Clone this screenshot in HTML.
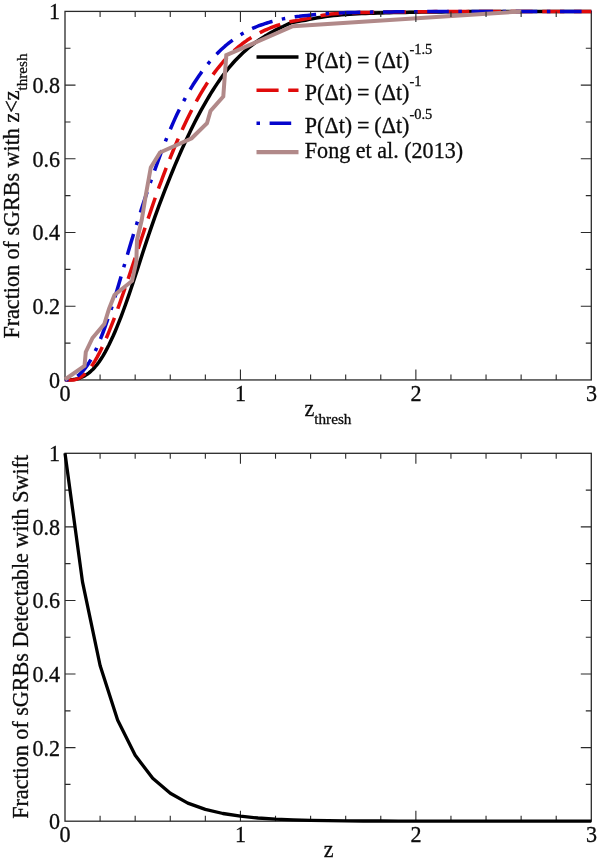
<!DOCTYPE html>
<html><head><meta charset="utf-8"><title>sGRB redshift distributions</title>
<style>html,body{margin:0;padding:0;background:#fff}svg{display:block}text{stroke:#0c0c0c;stroke-width:.3px}</style></head>
<body>
<svg width="600" height="862" viewBox="0 0 600 862" font-family='"Liberation Serif", "Times New Roman", serif' font-size="22.1" fill="#0c0c0c">
<rect width="600" height="862" fill="#fff"/>
<rect x="65.0" y="11.4" width="526.30" height="368.55" fill="none" stroke="#2a2a2a" stroke-width="1.3"/>
<g fill="none" stroke-width="3.5" stroke-linejoin="round">
<polyline points="65.0,379.5 67.0,379.7 69.0,379.7 71.0,379.7 73.0,379.6 75.0,379.3 77.0,378.9 79.0,378.3 81.0,377.5 83.0,376.6 85.0,375.6 87.0,374.3 89.0,372.8 91.0,371.1 93.0,369.2 95.0,367.0 97.0,364.6 99.0,362.0 101.0,359.0 103.0,355.9 105.0,352.4 107.0,348.7 109.0,344.8 111.0,340.6 113.0,336.3 115.0,331.7 117.0,326.9 119.0,321.9 121.0,316.8 123.0,311.5 125.0,306.0 127.0,300.4 129.0,294.7 131.0,288.8 133.0,282.8 135.0,276.7 137.0,270.6 139.0,264.4 141.0,258.2 143.0,252.0 145.0,245.9 147.0,239.9 149.0,234.0 151.0,228.1 153.0,222.4 155.0,216.7 157.0,211.2 159.0,205.7 161.0,200.4 163.0,195.1 165.0,189.9 167.0,184.8 169.0,179.8 171.0,174.8 173.0,170.0 175.0,165.2 177.0,160.5 179.0,155.9 181.0,151.3 183.0,146.9 185.0,142.5 187.0,138.2 189.0,134.0 191.0,129.8 193.0,125.8 195.0,121.8 197.0,117.9 199.0,114.1 201.0,110.4 203.0,106.8 205.0,103.3 207.0,99.8 209.0,96.5 211.0,93.2 213.0,90.0 215.0,86.9 217.0,83.9 219.0,81.0 221.0,78.1 223.0,75.4 225.0,72.7 227.0,70.2 229.0,67.7 231.0,65.3 233.0,63.0 235.0,60.8 237.0,58.7 239.0,56.7 241.0,54.7 243.0,52.8 245.0,51.0 247.0,49.2 249.0,47.5 251.0,45.9 253.0,44.3 255.0,42.8 257.0,41.4 259.0,40.0 261.0,38.7 263.0,37.4 265.0,36.1 267.0,34.9 269.0,33.7 271.0,32.6 273.0,31.5 275.0,30.4 277.0,29.4 279.0,28.4 281.0,27.4 283.0,26.5 285.0,25.5 287.0,24.6 289.0,23.7 291.0,22.8 291.5,22.6 293.5,22.3 297.5,21.6 301.5,20.9 305.5,20.2 309.5,19.4 313.5,18.6 317.5,17.8 321.5,17.2 325.5,16.5 329.5,16.0 333.5,15.5 337.5,15.2 341.5,14.8 345.5,14.6 349.5,14.3 353.5,14.1 357.5,13.8 361.5,13.6 365.5,13.5 369.5,13.3 373.5,13.2 377.5,13.1 381.5,12.9 385.5,12.8 389.5,12.7 393.5,12.6 397.5,12.5 401.5,12.5 405.5,12.4 409.5,12.3 413.5,12.3 417.5,12.2 421.5,12.1 425.5,12.1 429.5,12.0 433.5,12.0 437.5,11.9 441.5,11.9 445.5,11.8 449.5,11.8 453.5,11.8 457.5,11.7 461.5,11.7 465.5,11.7 469.5,11.6 473.5,11.6 477.5,11.6 481.5,11.5 485.5,11.5 489.5,11.5 493.5,11.5 497.5,11.5 501.5,11.4 505.5,11.4 509.5,11.4 513.5,11.4 517.5,11.4 521.5,11.4 525.5,11.4 529.5,11.4 533.5,11.4 537.5,11.4 541.5,11.4 545.5,11.4 549.5,11.4 553.5,11.4 557.5,11.4 561.5,11.4 565.5,11.4 569.5,11.4 573.5,11.4 577.5,11.4 581.5,11.4 585.5,11.4 589.5,11.4 591.3,11.4" stroke="#000"/>
<polyline points="65.0,379.5 67.0,379.9 69.0,379.9 71.0,379.9 73.0,379.9 75.0,379.7 77.0,379.0 79.0,378.1 81.0,376.9 83.0,375.5 85.0,373.8 87.0,371.8 89.0,369.5 91.0,366.9 93.0,364.0 95.0,360.9 97.0,357.4 99.0,353.7 101.0,349.7 103.0,345.5 105.0,341.1 107.0,336.5 109.0,331.7 111.0,326.7 113.0,321.6 115.0,316.3 117.0,310.9 119.0,305.3 121.0,299.7 123.0,294.0 125.0,288.2 127.0,282.3 129.0,276.4 131.0,270.4 133.0,264.3 135.0,258.3 137.0,252.2 139.0,246.1 141.0,240.0 143.0,234.0 145.0,227.9 147.0,221.9 149.0,216.0 151.0,210.1 153.0,204.2 155.0,198.5 157.0,192.8 159.0,187.2 161.0,181.8 163.0,176.4 165.0,171.1 167.0,165.9 169.0,160.8 171.0,155.9 173.0,151.0 175.0,146.2 177.0,141.5 179.0,136.9 181.0,132.4 183.0,128.0 185.0,123.7 187.0,119.6 189.0,115.5 191.0,111.5 193.0,107.6 195.0,103.8 197.0,100.2 199.0,96.6 201.0,93.2 203.0,89.8 205.0,86.6 207.0,83.4 209.0,80.4 211.0,77.5 213.0,74.6 215.0,71.9 217.0,69.3 219.0,66.8 221.0,64.4 223.0,62.0 225.0,59.8 227.0,57.6 229.0,55.5 231.0,53.6 233.0,51.6 235.0,49.8 237.0,48.1 239.0,46.4 241.0,44.8 243.0,43.2 245.0,41.8 247.0,40.3 249.0,39.0 251.0,37.7 253.0,36.5 255.0,35.3 257.0,34.2 259.0,33.1 261.0,32.1 263.0,31.1 265.0,30.2 267.0,29.3 269.0,28.5 271.0,27.7 273.0,26.9 275.0,26.2 277.0,25.5 279.0,24.8 281.0,24.1 283.0,23.5 285.0,22.9 287.0,22.3 289.0,21.7 291.0,21.4 295.0,20.8 299.0,20.1 303.0,19.3 307.0,18.6 311.0,17.8 315.0,16.9 319.0,16.0 323.0,15.3 327.0,14.7 331.0,14.1 335.0,13.7 339.0,13.4 343.0,13.2 347.0,13.0 351.0,12.8 355.0,12.7 359.0,12.6 363.0,12.5 367.0,12.5 371.0,12.4 375.0,12.3 379.0,12.3 383.0,12.2 387.0,12.1 391.0,12.1 395.0,12.1 399.0,12.0 403.0,12.0 407.0,11.9 411.0,11.9 415.0,11.8 419.0,11.8 423.0,11.8 427.0,11.7 431.0,11.7 435.0,11.6 439.0,11.6 443.0,11.6 447.0,11.5 451.0,11.5 455.0,11.5 459.0,11.5 463.0,11.5 467.0,11.5 471.0,11.5 475.0,11.5 479.0,11.5 483.0,11.5 487.0,11.5 491.0,11.5 495.0,11.5 499.0,11.4 503.0,11.4 507.0,11.4 511.0,11.4 515.0,11.4 519.0,11.4 523.0,11.4 527.0,11.4 531.0,11.4 535.0,11.4 539.0,11.4 543.0,11.4 547.0,11.4 551.0,11.4 555.0,11.4 559.0,11.4 563.0,11.4 567.0,11.4 571.0,11.4 575.0,11.4 579.0,11.4 583.0,11.4 587.0,11.4 591.0,11.4 591.3,11.4" stroke="#e00b0b" stroke-dasharray="22.1 9.6"/>
<polyline points="65.0,379.5 67.0,379.7 69.0,379.6 71.0,379.2 73.0,378.5 75.0,377.6 77.0,376.4 79.0,374.8 81.0,373.0 83.0,370.9 85.0,368.5 87.0,365.8 89.0,362.7 91.0,359.4 93.0,355.7 95.0,351.7 97.0,347.3 99.0,342.6 101.0,337.7 103.0,332.5 105.0,327.1 107.0,321.4 109.0,315.6 111.0,309.6 113.0,303.4 115.0,296.9 117.0,290.3 119.0,283.5 121.0,276.7 123.0,269.9 125.0,263.0 127.0,256.1 129.0,249.3 131.0,242.6 133.0,235.9 135.0,229.4 137.0,223.0 139.0,216.7 141.0,210.5 143.0,204.4 145.0,198.4 147.0,192.4 149.0,186.6 151.0,180.8 153.0,175.0 155.0,169.4 157.0,163.8 159.0,158.3 161.0,152.9 163.0,147.6 165.0,142.4 167.0,137.3 169.0,132.4 171.0,127.7 173.0,123.1 175.0,118.6 177.0,114.3 179.0,110.2 181.0,106.2 183.0,102.3 185.0,98.6 187.0,94.9 189.0,91.5 191.0,88.1 193.0,84.8 195.0,81.7 197.0,78.7 199.0,75.8 201.0,72.9 203.0,70.2 205.0,67.6 207.0,65.1 209.0,62.6 211.0,60.3 213.0,58.0 215.0,55.8 217.0,53.8 219.0,51.7 221.0,49.8 223.0,48.0 225.0,46.2 227.0,44.5 229.0,42.8 231.0,41.3 233.0,39.8 235.0,38.4 237.0,37.0 239.0,35.7 241.0,34.5 243.0,33.3 245.0,32.2 247.0,31.1 249.0,30.1 251.0,29.1 253.0,28.2 255.0,27.3 257.0,26.5 259.0,25.7 261.0,25.0 263.0,24.3 265.0,23.6 267.0,23.0 269.0,22.4 271.0,21.8 273.0,21.3 275.0,20.7 277.0,20.3 279.0,19.8 281.0,19.3 283.0,18.9 285.0,18.5 287.0,18.1 289.0,17.8 291.0,17.4 293.0,17.0 293.3,17.0 295.3,16.7 299.3,16.3 303.3,15.8 307.3,15.4 311.3,15.0 315.3,14.6 319.3,14.2 323.3,13.9 327.3,13.6 331.3,13.4 335.3,13.1 339.3,12.9 343.3,12.8 347.3,12.6 351.3,12.5 355.3,12.4 359.3,12.3 363.3,12.2 367.3,12.2 371.3,12.1 375.3,12.0 379.3,12.0 383.3,11.9 387.3,11.9 391.3,11.9 395.3,11.8 399.3,11.8 403.3,11.8 407.3,11.7 411.3,11.7 415.3,11.7 419.3,11.7 423.3,11.6 427.3,11.6 431.3,11.6 435.3,11.6 439.3,11.6 443.3,11.5 447.3,11.5 451.3,11.5 455.3,11.5 459.3,11.5 463.3,11.5 467.3,11.5 471.3,11.5 475.3,11.5 479.3,11.5 483.3,11.5 487.3,11.5 491.3,11.5 495.3,11.5 499.3,11.5 503.3,11.4 507.3,11.4 511.3,11.4 515.3,11.4 519.3,11.4 523.3,11.4 527.3,11.4 531.3,11.4 535.3,11.4 539.3,11.4 543.3,11.4 547.3,11.4 551.3,11.4 555.3,11.4 559.3,11.4 563.3,11.4 567.3,11.4 571.3,11.4 575.3,11.4 579.3,11.4 583.3,11.4 587.3,11.4 591.3,11.4" stroke="#0505cc" stroke-dasharray="3.5 9.6 21.6 9.55"/>
<polyline points="65.0,379.5 84.5,366.0 85.8,352.0 92.5,338.0 104.3,324.0 109.0,309.0 114.5,295.0 132.0,281.0 136.3,262.0 137.0,240.0 141.7,220.0 146.0,194.0 150.8,167.5 160.0,152.5 191.7,138.3 207.0,123.3 210.5,111.0 223.3,96.5 226.3,55.2 292.8,26.2 521.3,11.4" stroke="#b18989" stroke-width="4" stroke-linejoin="miter"/>
<path d="M256.5 57H298.5" stroke="#000"/>
<path d="M256.5 90.2H298.5" stroke="#e00b0b" stroke-dasharray="22.1 9.6"/>
<path d="M256.5 123.2H298.5" stroke="#0505cc" stroke-dasharray="3.5 9.6 21.6 9.55"/>
<path d="M256.5 152.2H298.5" stroke="#b18989" stroke-width="4.2"/>
</g>
<text transform="translate(304.80 67.50) scale(1 1.03)"><tspan word-spacing="-0.65">P(Δt) = (Δt)</tspan><tspan dy="-13.5" font-size="14.5">-1.5</tspan></text>
<text transform="translate(304.80 100.30) scale(1 1.03)"><tspan word-spacing="-0.65">P(Δt) = (Δt)</tspan><tspan dy="-13.5" font-size="14.5">-1</tspan></text>
<text transform="translate(304.80 133.10) scale(1 1.03)"><tspan word-spacing="-0.65">P(Δt) = (Δt)</tspan><tspan dy="-13.5" font-size="14.5">-0.5</tspan></text>
<text transform="translate(304.80 157.60) scale(1 1.03)">Fong et al. (2013)</text>
<path d="M100.09 379.95v-5.5M100.09 11.4v5.5M135.17 379.95v-5.5M135.17 11.4v5.5M170.26 379.95v-5.5M170.26 11.4v5.5M205.35 379.95v-5.5M205.35 11.4v5.5M240.43 379.95v-10.5M240.43 11.4v10.5M275.52 379.95v-5.5M275.52 11.4v5.5M310.61 379.95v-5.5M310.61 11.4v5.5M345.69 379.95v-5.5M345.69 11.4v5.5M380.78 379.95v-5.5M380.78 11.4v5.5M415.87 379.95v-10.5M415.87 11.4v10.5M450.95 379.95v-5.5M450.95 11.4v5.5M486.04 379.95v-5.5M486.04 11.4v5.5M521.13 379.95v-5.5M521.13 11.4v5.5M556.21 379.95v-5.5M556.21 11.4v5.5M65.0 343.09h5.5M591.3 343.09h-5.5M65.0 306.24h10.5M591.3 306.24h-10.5M65.0 269.38h5.5M591.3 269.38h-5.5M65.0 232.53h10.5M591.3 232.53h-10.5M65.0 195.67h5.5M591.3 195.67h-5.5M65.0 158.82h10.5M591.3 158.82h-10.5M65.0 121.96h5.5M591.3 121.96h-5.5M65.0 85.11h10.5M591.3 85.11h-10.5M65.0 48.25h5.5M591.3 48.25h-5.5" stroke="#2a2a2a" stroke-width="1.1" fill="none"/>
<text transform="translate(60.10 387.85) scale(1 1.05)" text-anchor="end">0</text>
<text transform="translate(60.10 314.14) scale(1 1.05)" text-anchor="end">0.2</text>
<text transform="translate(60.10 240.43) scale(1 1.05)" text-anchor="end">0.4</text>
<text transform="translate(60.10 166.72) scale(1 1.05)" text-anchor="end">0.6</text>
<text transform="translate(60.10 93.01) scale(1 1.05)" text-anchor="end">0.8</text>
<text transform="translate(60.10 19.30) scale(1 1.05)" text-anchor="end">1</text>
<text transform="translate(65.10 400.75) scale(1 1.05)" text-anchor="middle">0</text>
<text transform="translate(240.53 400.75) scale(1 1.05)" text-anchor="middle">1</text>
<text transform="translate(415.97 400.75) scale(1 1.05)" text-anchor="middle">2</text>
<text transform="translate(591.40 400.75) scale(1 1.05)" text-anchor="middle">3</text>
<text transform="translate(304.50 415.70) scale(1 1.02)">z<tspan dy="8.3" font-size="15.2">thresh</tspan></text>
<text transform="translate(18.80 338.60) rotate(-90) scale(1 1.02)">Fraction of sGRBs with z&lt;z<tspan dy="8.1" font-size="15.2">thresh</tspan></text>
<rect x="65.0" y="453.3" width="526.30" height="367.90" fill="none" stroke="#2a2a2a" stroke-width="1.3"/>
<path d="M100.09 821.2v-5.5M100.09 453.3v5.5M135.17 821.2v-5.5M135.17 453.3v5.5M170.26 821.2v-5.5M170.26 453.3v5.5M205.35 821.2v-5.5M205.35 453.3v5.5M240.43 821.2v-10.5M240.43 453.3v10.5M275.52 821.2v-5.5M275.52 453.3v5.5M310.61 821.2v-5.5M310.61 453.3v5.5M345.69 821.2v-5.5M345.69 453.3v5.5M380.78 821.2v-5.5M380.78 453.3v5.5M415.87 821.2v-10.5M415.87 453.3v10.5M450.95 821.2v-5.5M450.95 453.3v5.5M486.04 821.2v-5.5M486.04 453.3v5.5M521.13 821.2v-5.5M521.13 453.3v5.5M556.21 821.2v-5.5M556.21 453.3v5.5M65.0 784.41h5.5M591.3 784.41h-5.5M65.0 747.62h10.5M591.3 747.62h-10.5M65.0 710.83h5.5M591.3 710.83h-5.5M65.0 674.04h10.5M591.3 674.04h-10.5M65.0 637.25h5.5M591.3 637.25h-5.5M65.0 600.46h10.5M591.3 600.46h-10.5M65.0 563.67h5.5M591.3 563.67h-5.5M65.0 526.88h10.5M591.3 526.88h-10.5M65.0 490.09h5.5M591.3 490.09h-5.5" stroke="#2a2a2a" stroke-width="1.1" fill="none"/>
<polyline points="65.0,453.3 82.5,581.9 100.1,665.5 117.6,719.9 135.2,755.3 152.7,778.3 170.3,793.3 187.8,803.1 205.3,809.4 222.9,813.5 240.4,816.2 258.0,818.0 275.5,819.1 293.1,819.8 310.6,820.3 328.1,820.6 345.7,820.8 363.2,821.0 380.8,821.0 398.3,821.1 415.9,821.1 433.4,821.2 451.0,821.2 468.5,821.2 486.0,821.2 503.6,821.2 521.1,821.2 538.7,821.2 556.2,821.2 573.8,821.2 591.3,821.2" fill="none" stroke="#000" stroke-width="3.3" stroke-linejoin="round"/>
<text transform="translate(60.10 829.10) scale(1 1.05)" text-anchor="end">0</text>
<text transform="translate(60.10 755.52) scale(1 1.05)" text-anchor="end">0.2</text>
<text transform="translate(60.10 681.94) scale(1 1.05)" text-anchor="end">0.4</text>
<text transform="translate(60.10 608.36) scale(1 1.05)" text-anchor="end">0.6</text>
<text transform="translate(60.10 534.78) scale(1 1.05)" text-anchor="end">0.8</text>
<text transform="translate(60.10 461.20) scale(1 1.05)" text-anchor="end">1</text>
<text transform="translate(65.10 842.00) scale(1 1.05)" text-anchor="middle">0</text>
<text transform="translate(240.53 842.00) scale(1 1.05)" text-anchor="middle">1</text>
<text transform="translate(415.97 842.00) scale(1 1.05)" text-anchor="middle">2</text>
<text transform="translate(591.40 842.00) scale(1 1.05)" text-anchor="middle">3</text>
<text transform="translate(328.60 856.70) scale(1 1.02)" text-anchor="middle">z</text>
<text transform="translate(27.50 818.80) rotate(-90) scale(1 1.02)">Fraction of sGRBs Detectable with Swift</text>
</svg>
</body></html>
